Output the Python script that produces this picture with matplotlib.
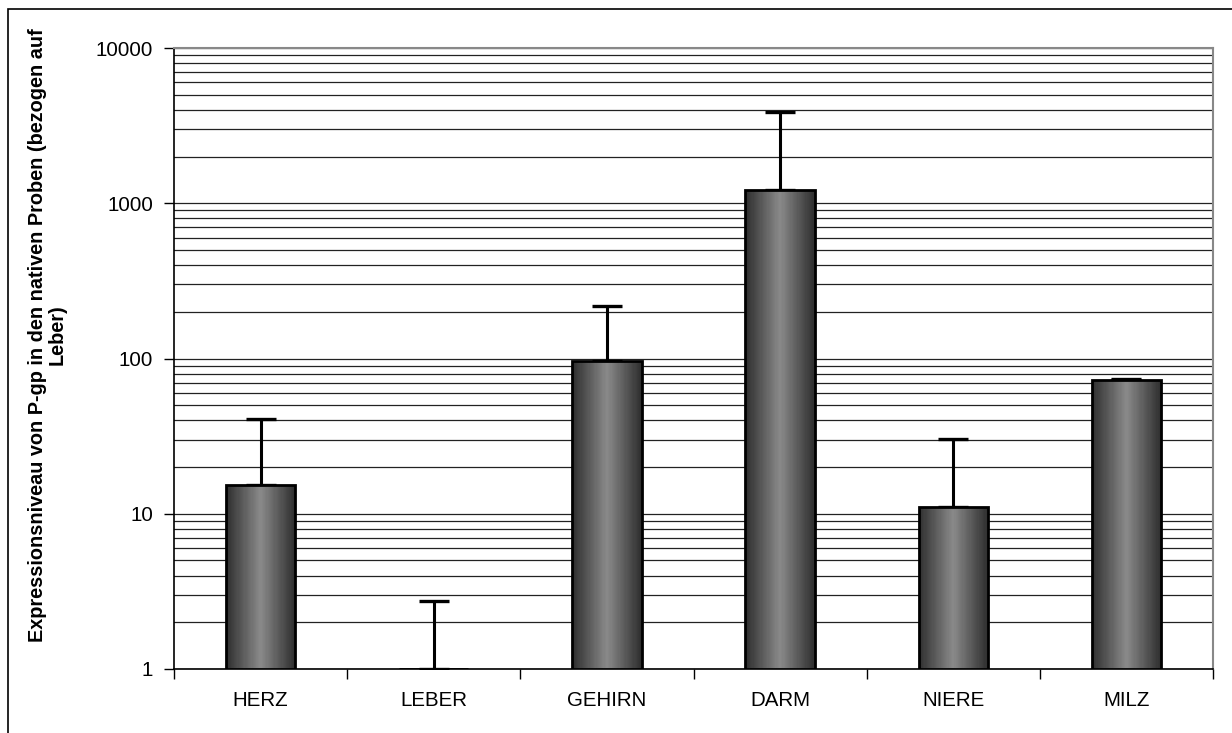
import numpy as np
import matplotlib.pyplot as plt
from matplotlib.patches import Rectangle
from matplotlib.colors import LinearSegmentedColormap

plt.rcParams['font.family'] = ['Liberation Sans', 'DejaVu Sans']

# data
categories = ['HERZ', 'LEBER', 'GEHIRN', 'DARM', 'NIERE', 'MILZ']
values = [15.3, 1.0, 97.0, 1217.0, 11.0, 72.5]
err_upper = [40.5, 2.73, 219.0, 3870.0, 30.1, 74.0]   # top of error bar


def main():
    fig = plt.figure(figsize=(12.32, 7.33), dpi=100)
    ax = fig.add_axes([174 / 1232, 1 - 669 / 733, (1213 - 174) / 1232, (669 - 48) / 733])

    x = np.arange(len(categories))
    width = 0.4
    vals = np.array(values)
    errs = np.array(err_upper) - vals

    # horizontal gradient: dark edges, lighter middle
    cmap = LinearSegmentedColormap.from_list('g', ['#2e2e2e', '#8a8a8a', '#2e2e2e'])
    nslice = 60
    for xi, v in zip(x, vals):
        edges = np.linspace(xi - width / 2, xi + width / 2, nslice + 1)
        for k in range(nslice):
            c = cmap((k + 0.5) / nslice)
            ax.bar(edges[k], v - 1, bottom=1, width=edges[k + 1] - edges[k] + 0.001,
                   align='edge', color=c, linewidth=0, zorder=3)
    ax.bar(x, vals - 1, bottom=1, width=width, facecolor='none',
           edgecolor='black', linewidth=2, zorder=4)

    ax.errorbar(x, vals, yerr=[np.zeros_like(errs), errs], fmt='none',
                ecolor='black', elinewidth=2.2, capsize=11, capthick=2.4, zorder=2)

    ax.set_yscale('log')
    ax.set_ylim(1, 10000)
    ax.set_xlim(-0.5, len(categories) - 0.5)

    # gridlines at every major and minor log step
    ax.yaxis.grid(True, which='both', color='#222222', linewidth=0.9, zorder=1)
    ax.set_axisbelow(True)

    ax.set_yticks([1, 10, 100, 1000, 10000])
    ax.set_yticklabels(['1', '10', '100', '1000', '10000'], fontsize=14.8)
    ax.tick_params(axis='y', which='major', length=7, width=1, direction='out', pad=8)
    ax.tick_params(axis='y', which='minor', length=0)

    ax.set_xticks(x)
    ax.set_xticklabels(categories, fontsize=14.8)
    ax.set_xticks(np.arange(len(categories) + 1) - 0.5, minor=True)
    ax.tick_params(axis='x', which='major', length=0, pad=16)
    ax.tick_params(axis='x', which='minor', length=7, width=1, direction='out')

    ax.spines['left'].set_linewidth(1.2)
    ax.spines['bottom'].set_linewidth(1.2)
    ax.spines['top'].set_color('#888888')
    ax.spines['right'].set_color('#888888')
    ax.spines['top'].set_linewidth(1.5)
    ax.spines['right'].set_linewidth(1.5)

    fig.text(47.5 / 1232, 1 - 335 / 733,
             'Expressionsniveau von P-gp in den nativen Proben (bezogen auf\nLeber)',
             rotation=90, ha='center', va='center', multialignment='center',
             fontsize=14.3, fontweight='bold', linespacing=1.05)

    # outer frame of the chart
    fig.patches.append(Rectangle((8 / 1232, -0.01), 1.0, 1 - 9 / 733 + 0.01,
                                 transform=fig.transFigure, fill=False,
                                 edgecolor='black', linewidth=1.2))

    fig.savefig('out.png', dpi=100)


if __name__ == "__main__":
    main()
